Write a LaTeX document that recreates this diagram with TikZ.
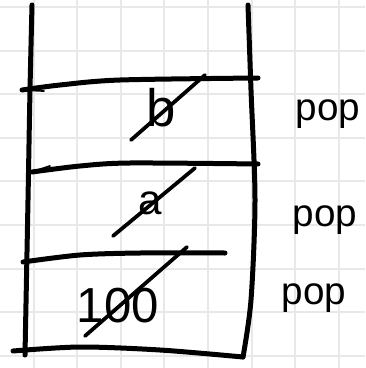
\documentclass[tikz,border=0pt]{standalone}
\usepackage{fontspec}
\setmainfont{Liberation Sans}
\tikzset{
    gridline/.style={draw=black!9, line width=0.04cm},
    wall/.style={draw=black, line width=0.1cm, line cap=round, line join=round},
    strike/.style={draw=black, line width=0.075cm, line cap=round},
    tick/.style={draw=black, line width=0.035cm, line cap=round},
    cell/.style={inner sep=0pt, font=\fontsize{30}{30}\selectfont},
    popnote/.style={inner sep=0pt, anchor=base, font=\fontsize{22}{22}\selectfont}
}
\begin{document}
\begin{tikzpicture}[x=0.02cm, y=-0.02cm]
    \useasboundingbox (0,0) rectangle (365,368);
    \fill[white] (0,0) rectangle (365,368);
    % squared paper
    \foreach \gx in {0,...,7}
        \draw[gridline] ({33.5+43.6*\gx},0) -- ++(0,368);
    \foreach \gy in {0,...,8}
        \draw[gridline] (0,{7+43.6*\gy}) -- ++(365,0);
    % the stack walls
    \draw[wall] plot[smooth] coordinates {(32,5) (30,90) (28,200) (25,355)};
    \draw[wall] plot[smooth] coordinates {(248,5) (251,90) (255,200) (251,300) (243,357)};
    \draw[tick] (243,357) -- (245,343);
    % slot separators
    \draw[wall] plot[smooth] coordinates {(22,90) (60,85) (120,80) (258,78)};
    \draw[tick] (22,90) -- (44,91);
    \draw[wall] plot[smooth] coordinates {(32,172) (80,166) (130,163) (258,164)};
    \draw[tick] (32,172) -- (50,166);
    \draw[wall] plot[smooth] coordinates {(23,262) (80,255) (140,253) (225,253)};
    \draw[wall] plot[smooth] coordinates {(13,351) (80,347) (160,350) (243,357)};
    % stored values, each struck out
    \node[cell] (itemb) at (161,108) {b};
    \node[cell, font=\fontsize{24}{24}\selectfont] (itema) at (150,203) {a};
    \node[cell, font=\fontsize{28}{28}\selectfont] (item100) at (118,306) {100};
    \draw[strike] (131,140) -- (205,75);
    \draw[strike] (113,236) -- (195,168);
    \draw[strike] (85,336) -- (187,247);
    % operations
    \node[popnote] (popb) at (328,120) {pop};
    \node[popnote] (popa) at (325,226) {pop};
    \node[popnote] (pop100) at (314,304) {pop};
\end{tikzpicture}
\end{document}
